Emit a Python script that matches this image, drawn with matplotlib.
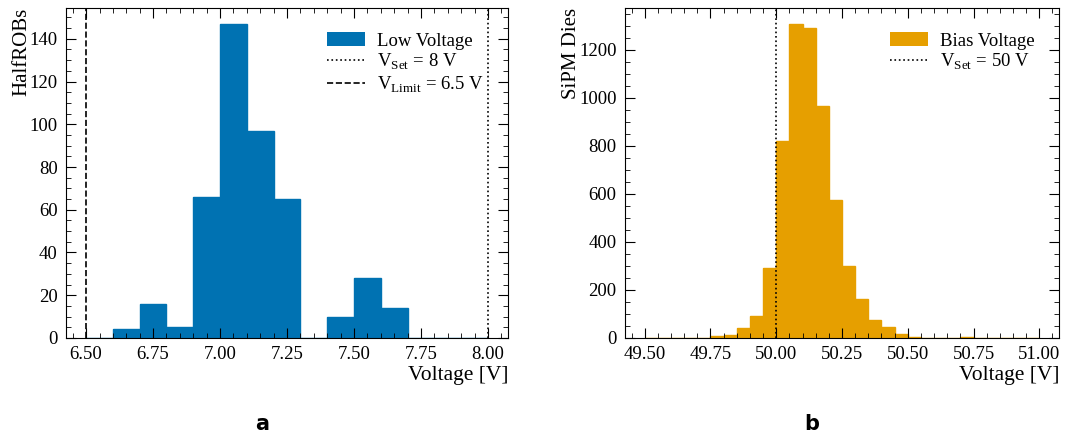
import numpy as np
import matplotlib
matplotlib.use("Agg")
import matplotlib.pyplot as plt
from matplotlib.ticker import MultipleLocator, FormatStrFormatter

# Low voltage per HalfROB, bins of 0.1 V from 6.5 V to 8.0 V
lv_edges = np.linspace(6.5, 8.0, 16)
lv_counts = [0, 4, 16, 5, 66, 147, 97, 65, 0, 10, 28, 14, 0, 0, 0]
lv_set = 8.0
lv_limit = 6.5

# Bias voltage per SiPM die, bins of 0.05 V from 49.5 V to 51.0 V
bv_edges = np.linspace(49.5, 51.0, 31)
bv_counts = [0, 0, 0, 0, 0, 7, 14, 40, 91, 291,
             822, 1309, 1290, 966, 576, 302, 162, 76, 47, 18,
             5, 2, 1, 2, 6, 0, 0, 0, 0, 0]
bv_set = 50.0

plt.rcParams['font.family'] = ['Liberation Serif', 'DejaVu Serif']
plt.rcParams['mathtext.fontset'] = 'custom'
plt.rcParams['mathtext.rm'] = 'Liberation Serif'
plt.rcParams['font.size'] = 13.5
plt.rcParams['xtick.direction'] = 'in'
plt.rcParams['ytick.direction'] = 'in'
plt.rcParams['xtick.top'] = True
plt.rcParams['ytick.right'] = True
plt.rcParams['xtick.major.size'] = 7
plt.rcParams['ytick.major.size'] = 7
plt.rcParams['xtick.minor.size'] = 3.5
plt.rcParams['ytick.minor.size'] = 3.5
plt.rcParams['xtick.major.pad'] = 6
plt.rcParams['ytick.major.pad'] = 6

fig = plt.figure(figsize=(10.77, 4.41), dpi=100)
ax1 = fig.add_axes([0.0613, 0.2336, 0.4104, 0.748])
ax2 = fig.add_axes([0.5803, 0.2336, 0.4030, 0.748])


def style(ax, ymajor, yminor, ylabel):
    ax.xaxis.set_major_locator(MultipleLocator(0.25))
    ax.xaxis.set_minor_locator(MultipleLocator(0.05))
    ax.yaxis.set_major_locator(MultipleLocator(ymajor))
    ax.yaxis.set_minor_locator(MultipleLocator(yminor))
    ax.xaxis.set_major_formatter(FormatStrFormatter('%.2f'))
    ax.set_xlabel('Voltage [V]', loc='right', fontsize=15.5, labelpad=2)
    ax.set_ylabel(ylabel, loc='top', fontsize=15, labelpad=-1)
    ax.legend(loc='upper right', frameon=False, handlelength=2.0, fontsize=13.5,
              borderaxespad=0.9, labelspacing=0.12, handletextpad=0.65)


# (a) low voltage
ax1.stairs(lv_counts, lv_edges, fill=True, color='#0072B2', label='Low Voltage')
ax1.stairs(lv_counts, lv_edges, color='#0072B2', lw=1)
ax1.axvline(lv_set, color='k', ls=':', lw=1.2, label=r'V$_\mathrm{Set}$ = 8 V')
ax1.axvline(lv_limit, color='k', ls='--', lw=1.2, label=r'V$_\mathrm{Limit}$ = 6.5 V')
ax1.set_xlim(6.425, 8.075)
ax1.set_ylim(0, max(lv_counts) * 1.05)
style(ax1, 20, 5, 'HalfROBs')

# (b) bias voltage
ax2.stairs(bv_counts, bv_edges, fill=True, color='#E69F00', label='Bias Voltage')
ax2.stairs(bv_counts, bv_edges, color='#E69F00', lw=1)
ax2.axvline(bv_set, color='k', ls=':', lw=1.2, label=r'V$_\mathrm{Set}$ = 50 V')
ax2.set_xlim(49.425, 51.075)
ax2.set_ylim(0, max(bv_counts) * 1.05)
style(ax2, 200, 50, 'SiPM Dies')

fig.text(0.243, 0.025, 'a', fontsize=15, fontweight='bold', family='DejaVu Sans', ha='center')
fig.text(0.754, 0.025, 'b', fontsize=15, fontweight='bold', family='DejaVu Sans', ha='center')

fig.savefig('out.png', dpi=100)
